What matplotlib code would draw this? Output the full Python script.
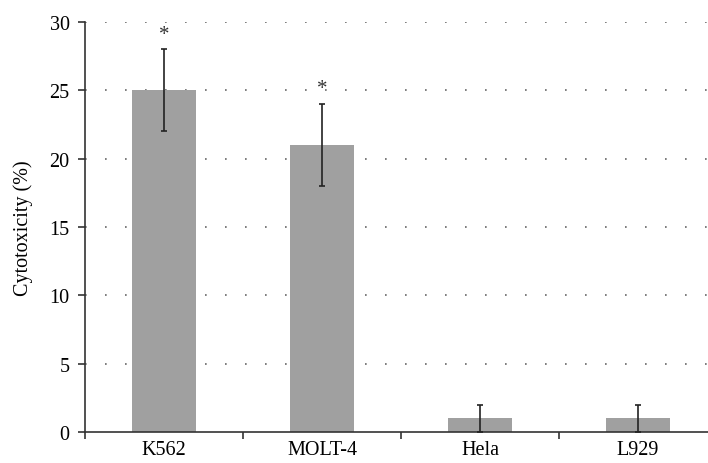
import numpy as np
import matplotlib.pyplot as plt

# Data
cell_lines = ['K562', 'MOLT-4', 'Hela', 'L929']
cytotoxicity = [25, 21, 1, 1]
errors = [3, 3, 1, 1]
significant = [True, True, False, False]

plt.rcParams['font.family'] = ['Liberation Serif', 'DejaVu Serif']

fig = plt.figure(figsize=(7.08, 4.64), dpi=100)
ax = fig.add_axes([85 / 708, 1 - 433 / 464, (717 - 85) / 708, 410 / 464])

x = np.arange(len(cell_lines))
ax.bar(x, cytotoxicity, width=0.4, color='#a0a0a0', zorder=2)
ax.errorbar(x, cytotoxicity, yerr=[[min(v, e) for v, e in zip(cytotoxicity, errors)], errors],
            fmt='none', ecolor='#222222', elinewidth=1.2, capsize=2.5, capthick=1.2, zorder=3)

# Significance markers
for xi, v, e, s in zip(x, cytotoxicity, errors, significant):
    if s:
        ax.text(xi, v + e + 1.1, '*', ha='center', va='center', fontsize=15, color='#333333')

ax.set_xlim(-0.5, 3.5)
ax.set_ylim(0, 30)
ax.set_yticks(np.arange(0, 31, 5))
ax.set_xticks(x)
ax.set_xticklabels(cell_lines, fontsize=14.5)
ax.set_xticks(np.arange(-0.5, 4, 1), minor=True)
ax.tick_params(axis='x', which='major', length=0, pad=6)
ax.tick_params(axis='x', which='minor', length=5, width=1.2, color='#333333', direction='out')
ax.tick_params(axis='y', length=5, width=1.2, color='#333333', labelsize=14.5, pad=6)

for yv in np.arange(5, 31, 5):
    ax.axhline(yv, color='#666666', linestyle=(0, (1, 11)), linewidth=1.2, zorder=1)

ax.spines['top'].set_visible(False)
ax.spines['right'].set_visible(False)
for side in ['left', 'bottom']:
    ax.spines[side].set_color('#333333')
    ax.spines[side].set_linewidth(1.2)

ax.set_ylabel('Cytotoxicity (%)', fontsize=14.5, labelpad=12)

fig.savefig('out.png', dpi=100)
